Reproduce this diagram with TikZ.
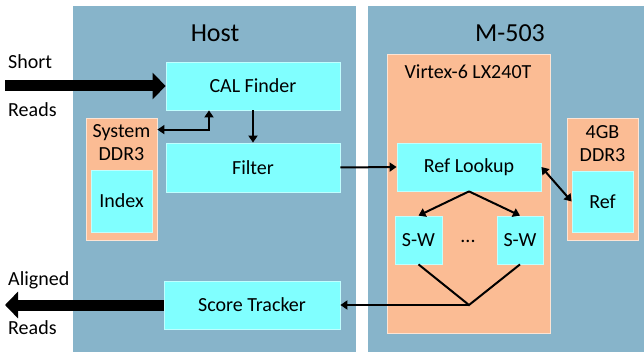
\documentclass[tikz,border=0pt]{standalone}
\usepackage{fontspec}
\setmainfont{Carlito}
\usetikzlibrary{arrows.meta,positioning}
\definecolor{panelblue}{RGB}{135,180,202}
\definecolor{chiporange}{RGB}{251,188,148}
\definecolor{blockcyan}{RGB}{128,255,255}
\tikzset{
	panel/.style={fill=panelblue, draw=none, inner sep=0},
	chip/.style={fill=chiporange, draw=white!60!chiporange, line width=0.8pt, inner sep=0},
	block/.style={fill=blockcyan, draw=white!50!blockcyan, line width=0.8pt, inner sep=0, font=\fontsize{20}{23}\selectfont},
	title/.style={font=\fontsize{26}{30}\selectfont, inner sep=0},
	caption/.style={font=\fontsize{20}{23}\selectfont, inner sep=0, align=center},
	>={Triangle[length=7pt,width=9pt]},
	link/.style={line width=2pt, ->},
	bigarrow/.style={line width=11pt, -{Triangle[length=13pt,width=26pt]}},
}
\begin{document}
\begin{tikzpicture}[x=1pt, y=-1pt]
			\useasboundingbox (0,0) rectangle (644,352);
			\node[panel, minimum width=283, minimum height=346] (host) at (214.5,179) {};
			\node[panel, minimum width=276, minimum height=346] (board) at (506,179) {};
			\node[title] (hosttitle) at (215,33) {Host};
			\node[title] (boardtitle) at (510,33) {M-503};

			\node[chip, minimum width=71, minimum height=122] (sysddr) at (121.5,179) {};
			\node[caption, anchor=north] (sysddrlabel) at (121.5,124) {System\\DDR3};
			\node[block, minimum width=61, minimum height=62] (index) at (121.5,201) {Index};
			\node[block, minimum width=174, minimum height=48] (cal) at (253,86) {CAL Finder};
			\node[block, minimum width=174, minimum height=49] (filter) at (253,167.5) {Filter};
			\node[block, minimum width=176, minimum height=48] (score) at (252,305) {Score Tracker};

			\node[chip, minimum width=163, minimum height=279] (fpga) at (468.5,193.5) {};
			\node[caption] (fpgalabel) at (468,72) {Virtex-6 LX240T};
			\node[block, minimum width=144, minimum height=48] (lookup) at (469,167) {Ref Lookup};
			\node[block, minimum width=47, minimum height=48] (sw1) at (418.5,240) {S-W};
			\node[block, minimum width=46, minimum height=48] (sw2) at (520,240) {S-W};
			\node[caption] (dots) at (468,241) {...};
			\node[chip, minimum width=71, minimum height=122] (boardddr) at (602.5,179) {};
			\node[caption, anchor=north] (boardddrlabel) at (602.5,125) {4GB\\DDR3};
			\node[block, minimum width=61, minimum height=61] (ref) at (602.5,201.5) {Ref};

			\node[caption, anchor=west] (shortlabel) at (8,62) {Short};
			\node[caption, anchor=west] (readsinlabel) at (8,110) {Reads};
			\node[caption, anchor=west] (alignedlabel) at (8,280) {Aligned};
			\node[caption, anchor=west] (readsoutlabel) at (8,328) {Reads};
			\coordinate (readsin) at (5,86);
			\coordinate (readsout) at (5,305);
			\coordinate (join) at (469,305);

			\draw[bigarrow] (readsin) -- (cal.west);
			\draw[bigarrow] (score.west) -- (readsout);
			\draw[link, <->] ([yshift=-12pt]sysddr.north east) -| ([xshift=-44pt]cal.south);
			\draw[link] (cal.south) -- (filter.north);
			\draw[link] (filter.east) -- (lookup.west);
			\draw[link, <->] (lookup.east) -- (ref.west);
			\draw[link] (lookup.south) -- (sw1.north);
			\draw[link] (lookup.south) -- (sw2.north);
			\draw[line width=2pt] (sw1.south) -- (join) -- (sw2.south);
			\draw[link] (join) -- (score.east);
		\end{tikzpicture}
\end{document}
